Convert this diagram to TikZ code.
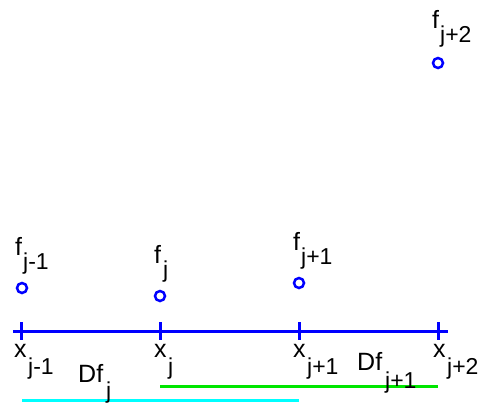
\documentclass[tikz,border=0pt]{standalone}
\usepackage{fontspec}
\setmainfont{Liberation Sans}
\definecolor{axisblue}{RGB}{0,0,255}
\definecolor{lcyan}{RGB}{0,255,255}
\definecolor{lgreen}{RGB}{0,230,0}
\begin{document}
\begin{tikzpicture}[x=1pt,y=-1pt,
  axisline/.style={draw=axisblue,line width=3pt},
  tickmark/.style={draw=axisblue,line width=3pt},
  pt/.style={circle,draw=axisblue,line width=2.5pt,minimum size=10pt,inner sep=0pt},
  lbl/.style={inner sep=0pt,anchor=base west,font=\fontsize{25}{30}\selectfont},
  sub/.style={inner sep=0pt,anchor=base west,font=\fontsize{23}{28}\selectfont}]
\useasboundingbox (0,0) rectangle (479,402);
% axis
\coordinate (a0) at (13,331);
\coordinate (a1) at (448,331);
\draw[axisline] (a0) -- (a1);
\foreach \n/\x in {t1/21,t2/160,t3/299,t4/438}{
  \coordinate (\n top) at (\x,322);
  \coordinate (\n bot) at (\x,340);
  \draw[tickmark] (\n top) -- (\n bot);
}
% points
\node[pt] (p1) at (22,288) {};
\node[pt] (p2) at (160,296) {};
\node[pt] (p3) at (299,283) {};
\node[pt] (p4) at (438,63) {};
% interval lines
\coordinate (g0) at (160,386);
\coordinate (g1) at (438,386);
\draw[draw=lgreen,line width=3pt] (g0) -- (g1);
\coordinate (c0) at (22,400);
\coordinate (c1) at (299,400);
\draw[draw=lcyan,line width=3pt] (c0) -- (c1);
% f labels
\node[lbl] (f1) at (15,255) {f};
\node[sub] (f1s) at (23,269) {j-1};
\node[lbl] (f2) at (154,263) {f};
\node[sub] (f2s) at (163,277) {j};
\node[lbl] (f3) at (293,250) {f};
\node[sub] (f3s) at (301,264) {j+1};
\node[lbl] (f4) at (432,28) {f};
\node[sub] (f4s) at (440,42) {j+2};
% x labels
\node[lbl] (x1) at (14,357) {x};
\node[sub] (x1s) at (28,374) {j-1};
\node[lbl] (x2) at (154,357) {x};
\node[sub] (x2s) at (168,374) {j};
\node[lbl] (x3) at (293,357) {x};
\node[sub] (x3s) at (307,374) {j+1};
\node[lbl] (x4) at (433,357) {x};
\node[sub] (x4s) at (447,374) {j+2};
% Df labels
\node[lbl] (d1) at (78,382) {Df};
\node[sub] (d1s) at (106,398) {j};
\node[lbl] (d2) at (357,370) {Df};
\node[sub] (d2s) at (385,388) {j+1};
\end{tikzpicture}
\end{document}
